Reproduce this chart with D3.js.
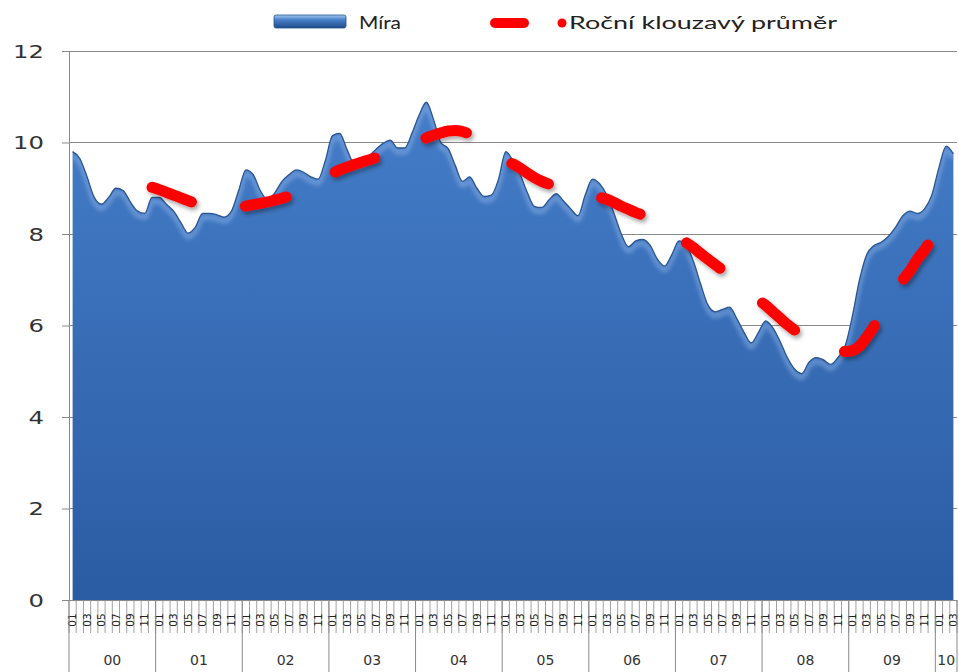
<!DOCTYPE html>
<html><head><meta charset="utf-8">
<script src="https://cdn.jsdelivr.net/npm/d3@7"></script>
<style>body{margin:0;background:#fff}svg{display:block}</style>
</head><body>
<svg id="c" width="959" height="672"></svg>
<script>
const years = ["00","01","02","03","04","05","06","07","08","09","10"];
const monthsPerYear = [12,12,12,12,12,12,12,12,12,12,3];
const yTicks = [0,2,4,6,8,10,12];
const seriesNames = ["Míra","Roční klouzavý průměr"];

// Míra, monthly 2000-01 .. 2010-03
const rate = [
  9.8, 9.65, 9.25, 8.8, 8.65, 8.8, 9.0, 8.95, 8.7, 8.5, 8.45, 8.8,
  8.8, 8.65, 8.5, 8.25, 8.02, 8.15, 8.45, 8.45, 8.42, 8.37, 8.5, 8.95,
  9.4, 9.3, 8.95, 8.75, 8.9, 9.15, 9.3, 9.4, 9.35, 9.25, 9.2, 9.6,
  10.15, 10.2, 9.85, 9.55, 9.6, 9.7, 9.85, 9.98, 10.05, 9.88, 9.88, 10.2,
  10.6, 10.88, 10.5, 10.0, 9.87, 9.5, 9.15, 9.25, 9.0, 8.82, 8.85, 9.2,
  9.8, 9.6, 9.3, 8.9, 8.6, 8.58, 8.75, 8.88, 8.72, 8.55, 8.4, 8.85,
  9.2, 9.1, 8.85, 8.45, 8.0, 7.72, 7.85, 7.88, 7.75, 7.45, 7.3, 7.55,
  7.85, 7.75, 7.4, 6.9, 6.45, 6.3, 6.35, 6.4, 6.15, 5.85, 5.62, 5.85,
  6.1, 5.95, 5.65, 5.3, 5.05, 4.95, 5.2, 5.3, 5.25, 5.15, 5.3, 5.55,
  6.2, 7.0, 7.55, 7.75, 7.82, 7.95, 8.15, 8.4, 8.5, 8.45, 8.55, 8.85,
  9.45, 9.92, 9.75
];

// Roční klouzavý průměr, starts at 2000-12 (index 11)
const movingAvgStart = 11;
const movingAvg = [
  9.02,
  8.97, 8.91, 8.85, 8.79, 8.73, 8.67, 8.62, 8.58, 8.55, 8.55, 8.57, 8.59,
  8.61, 8.64, 8.67, 8.7, 8.74, 8.78, 8.83, 8.9, 8.98, 9.07, 9.16, 9.25,
  9.33, 9.4, 9.46, 9.52, 9.57, 9.62, 9.67, 9.74, 9.81, 9.88, 9.94, 9.99,
  10.04, 10.1, 10.16, 10.21, 10.25, 10.26, 10.24, 10.18, 10.08, 9.95, 9.82, 9.7,
  9.6, 9.53, 9.44, 9.33, 9.23, 9.15, 9.09, 9.04, 8.99, 8.95, 8.91, 8.87,
  8.83, 8.8, 8.76, 8.69, 8.61, 8.54, 8.47, 8.41, 8.35, 8.22, 8.08, 7.97,
  7.89, 7.81, 7.7, 7.57, 7.45, 7.33, 7.21, 7.08, 6.94, 6.8, 6.67, 6.55,
  6.44, 6.3, 6.16, 6.02, 5.9, 5.79, 5.69, 5.61, 5.54, 5.48, 5.45, 5.43,
  5.45, 5.55, 5.75, 5.98, 6.28, 6.55, 6.8, 7.0, 7.2, 7.45, 7.65, 7.9,
  8.2, 8.55, 8.75
];

const categories = [];
years.forEach((yr, yi) => {
  for (let m = 1; m <= monthsPerYear[yi]; m++)
    categories.push({year: yr, month: String(m).padStart(2, "0")});
});

const svg = d3.select("#c");
const L = 69, R = 957, T = 51, B = 600;
const x = d3.scaleBand().domain(d3.range(categories.length)).range([L, R]).padding(0);
const cx = i => x(i) + x.bandwidth() / 2;
const y = d3.scaleLinear().domain([0, 12]).range([B, T]);

const defs = svg.append("defs");
const ag = defs.append("linearGradient").attr("id", "ag")
  .attr("gradientUnits", "userSpaceOnUse").attr("x1", 0).attr("x2", 0).attr("y1", 100).attr("y2", B);
ag.append("stop").attr("offset", 0).attr("stop-color", "#457dc8");
ag.append("stop").attr("offset", 1).attr("stop-color", "#2a5ca3");
const lg = defs.append("linearGradient").attr("id", "lg").attr("x1", 0).attr("x2", 0).attr("y1", 0).attr("y2", 1);
lg.append("stop").attr("offset", 0).attr("stop-color", "#a9cbf2");
lg.append("stop").attr("offset", 0.35).attr("stop-color", "#4a82cc");
lg.append("stop").attr("offset", 1).attr("stop-color", "#1f4b88");
const sh = defs.append("filter").attr("id", "sh").attr("x", "-10%").attr("y", "-10%").attr("width", "120%").attr("height", "130%");
sh.append("feDropShadow").attr("dx", 2).attr("dy", 3).attr("stdDeviation", 2)
  .attr("flood-color", "#000").attr("flood-opacity", 0.35);
const bl = defs.append("filter").attr("id", "bl");
bl.append("feGaussianBlur").attr("stdDeviation", 2);

// gridlines
svg.append("g").selectAll("line").data(yTicks.filter(t => t > 0)).join("line")
  .attr("x1", L).attr("x2", R).attr("y1", d => y(d)).attr("y2", d => y(d))
  .attr("stroke", "#8a8a8a").attr("stroke-width", 1).attr("shape-rendering", "crispEdges");

// area
const area = d3.area().x((d, i) => cx(i)).y0(y(0)).y1(d => y(d)).curve(d3.curveMonotoneX);
const topLine = d3.line().x((d, i) => cx(i)).y(d => y(d)).curve(d3.curveMonotoneX);
defs.append("clipPath").attr("id", "ac").append("path").attr("d", area(rate));
svg.append("path").attr("d", area(rate)).attr("fill", "url(#ag)");
svg.append("g").attr("clip-path", "url(#ac)")
  .append("path").attr("d", topLine(rate)).attr("fill", "none")
  .attr("stroke", "#8fb6ea").attr("stroke-width", 5).attr("opacity", 0.55)
  .attr("transform", "translate(0,4)").attr("filter", "url(#bl)");
svg.append("path").attr("d", topLine(rate)).attr("fill", "none")
  .attr("stroke", "#2a5592").attr("stroke-width", 1.3).attr("stroke-linejoin", "round");

// moving average
const maLine = d3.line().x(d => cx(d[0])).y(d => y(d[1])).curve(d3.curveMonotoneX);
const maData = movingAvg.map((v, k) => [movingAvgStart + k, v]);
svg.append("path").attr("d", maLine(maData)).attr("fill", "none")
  .attr("stroke", "#ff0000").attr("stroke-width", 11).attr("stroke-linecap", "round")
  .attr("stroke-dasharray", "42,55").attr("filter", "url(#sh)");

// y axis
const yAxis = svg.append("g").attr("transform", `translate(${L},0)`)
  .call(d3.axisLeft(y).tickValues(yTicks).tickSize(7).tickSizeOuter(0).tickFormat(d3.format("d")));
yAxis.select(".domain").attr("stroke", "#8a8a8a");
yAxis.selectAll(".tick line").attr("stroke", "#8a8a8a");
yAxis.selectAll(".tick text").attr("x", 0).attr("dy", "0.36em")
  .attr("transform", "translate(-25,0) scale(1.35,1)")
  .attr("font-family", "DejaVu Sans").attr("font-size", 18).attr("fill", "#333").attr("text-anchor", "end");

// x axis base line
svg.append("line").attr("x1", L).attr("x2", R).attr("y1", B).attr("y2", B)
  .attr("stroke", "#8a8a8a").attr("shape-rendering", "crispEdges");

// month separators
const bounds = d3.range(categories.length).map(i => x(i)).concat([R]);
svg.append("g").selectAll("line").data(bounds).join("line")
  .attr("x1", d => d).attr("x2", d => d).attr("y1", B).attr("y2", 633)
  .attr("stroke", "#8a8a8a").attr("stroke-width", 0.8);

// month labels
const xAxis = svg.append("g").attr("transform", `translate(0,${B})`)
  .call(d3.axisBottom(x).tickValues(d3.range(categories.length).filter(i => +categories[i].month % 2 === 1))
    .tickSize(0).tickFormat(i => categories[i].month));
xAxis.select(".domain").remove();
xAxis.selectAll(".tick text").attr("y", 0).attr("dy", "0.35em")
  .attr("transform", "translate(0,20) rotate(-90)").attr("text-anchor", "middle")
  .attr("font-family", "DejaVu Sans").attr("font-size", 10.5).attr("fill", "#222");

// year groups
let start = 0;
const groups = years.map((yr, yi) => {
  const g = {year: yr, s: start, e: start + monthsPerYear[yi] - 1};
  start += monthsPerYear[yi];
  return g;
});
svg.append("g").selectAll("line").data(groups.map(g => x(g.s)).concat([R])).join("line")
  .attr("x1", d => d).attr("x2", d => d).attr("y1", B).attr("y2", 672)
  .attr("stroke", "#8a8a8a").attr("stroke-width", 1);
svg.append("g").selectAll("text").data(groups).join("text")
  .attr("x", g => (x(g.s) + x(g.e) + x.bandwidth()) / 2).attr("y", 665)
  .attr("text-anchor", "middle").attr("font-family", "DejaVu Sans").attr("font-size", 14)
  .attr("fill", "#333").text(g => g.year);

// legend
const leg = svg.append("g");
leg.append("rect").attr("x", 274).attr("y", 15).attr("width", 72).attr("height", 13)
  .attr("rx", 2).attr("fill", "url(#lg)").attr("stroke", "#24508e").attr("stroke-width", 0.8);
leg.append("text").attr("x", 359).attr("y", 29).attr("font-family", "Lato").attr("font-size", 18)
  .attr("fill", "#222").attr("textLength", 42).attr("lengthAdjust", "spacingAndGlyphs").text(seriesNames[0]);
leg.append("line").attr("x1", 495).attr("x2", 524).attr("y1", 23).attr("y2", 23)
  .attr("stroke", "#ff0000").attr("stroke-width", 10).attr("stroke-linecap", "round");
leg.append("circle").attr("cx", 562).attr("cy", 23).attr("r", 4.5).attr("fill", "#ff0000");
leg.append("text").attr("x", 569).attr("y", 29).attr("font-family", "Lato").attr("font-size", 18)
  .attr("fill", "#222").attr("textLength", 268).attr("lengthAdjust", "spacingAndGlyphs").text(seriesNames[1]);
</script>
</body></html>
